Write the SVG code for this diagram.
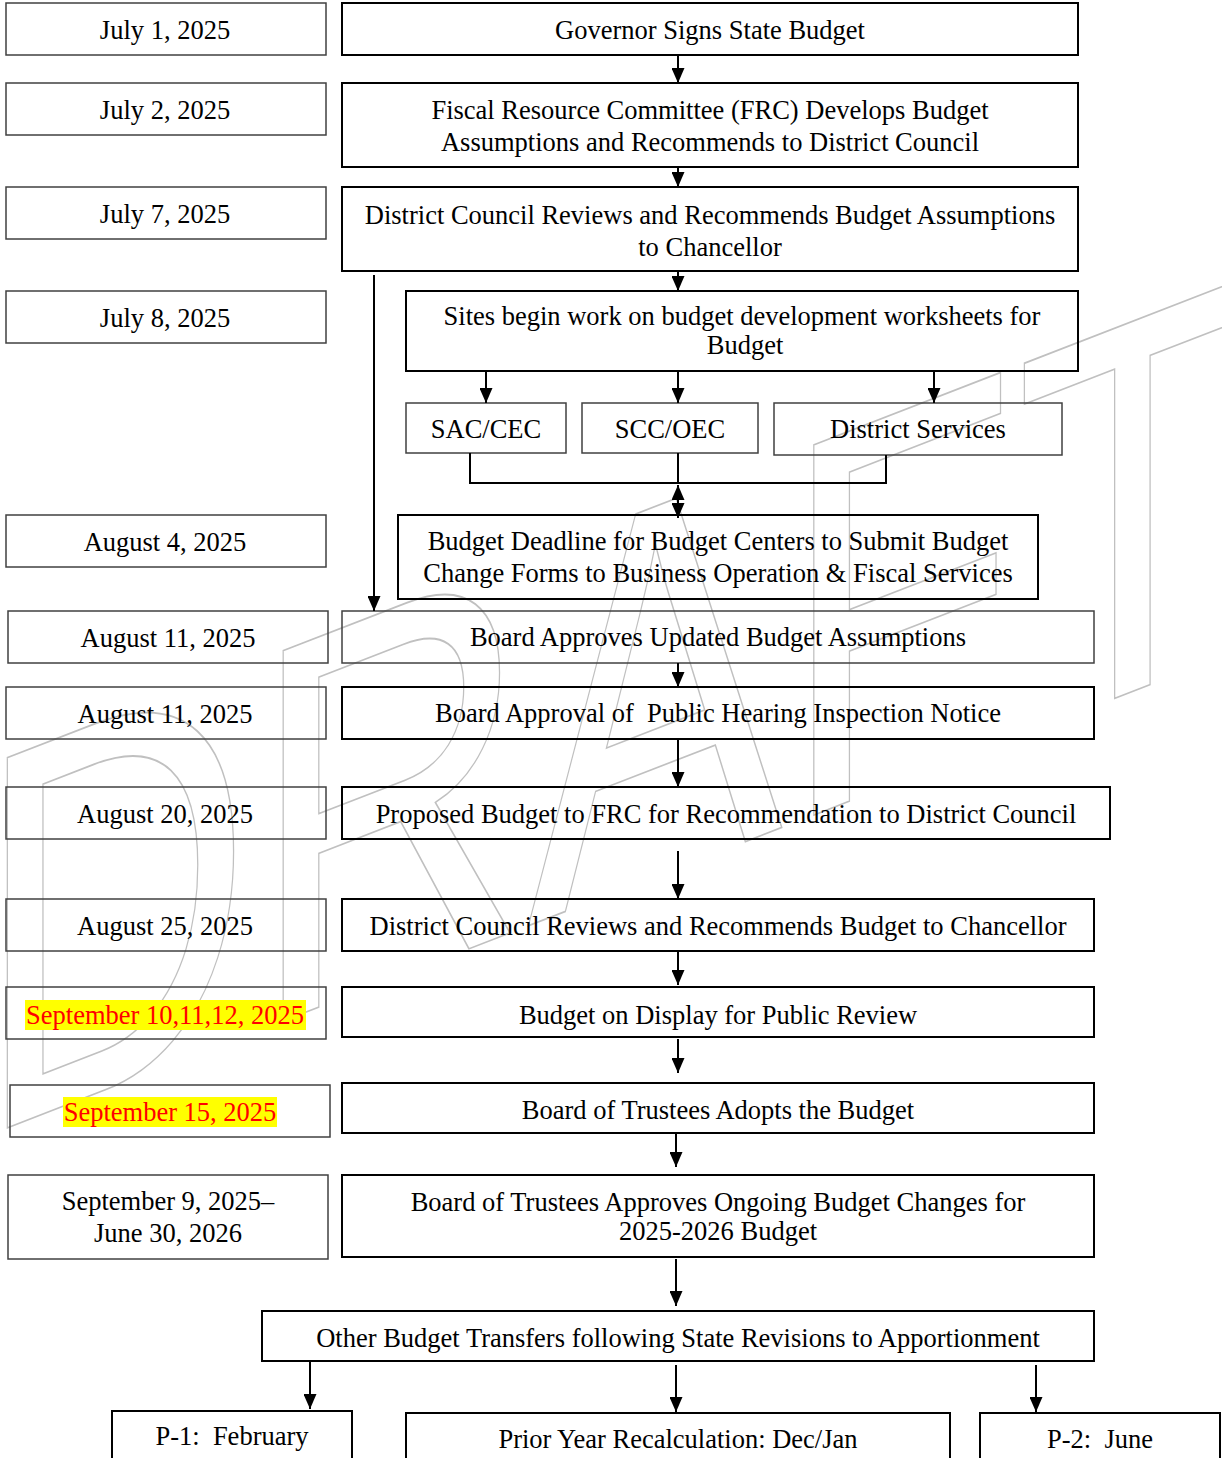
<svg xmlns="http://www.w3.org/2000/svg" width="1222" height="1458" viewBox="0 0 1222 1458">
<style>
text{font-family:"Liberation Serif","Times New Roman",serif;font-size:26.5px;fill:#000;text-anchor:middle}
.thin{fill:none;stroke:#404040;stroke-width:1.5}
.thick{fill:none;stroke:#000;stroke-width:2}
.c{fill:none;stroke:#000;stroke-width:2}
.red{fill:#ff0000}
.hl{fill:#ffff00}
.wm{font-family:"Liberation Sans",Arial,sans-serif;font-size:538px;fill:none;stroke:#c0c0c0;stroke-width:1.6;text-anchor:start}
</style>
<defs>
<marker id="ah" viewBox="0 0 15 13" refX="15" refY="6.5" markerWidth="15" markerHeight="13" markerUnits="userSpaceOnUse" orient="auto-start-reverse"><path d="M0,0 L15,6.5 L0,13 z" fill="#000"/></marker>
</defs>
<rect width="1222" height="1458" fill="#fff"/>
<g id="watermark"><text class="wm" transform="translate(-24,1140) skewY(-21.2) scale(0.71,1)" vector-effect="non-scaling-stroke">DRAFT</text></g>

<g id="d1"><rect class="thin" x="6" y="3" width="320" height="52"/><text x="165" y="39">July 1, 2025</text></g>
<g id="d2"><rect class="thin" x="6" y="83" width="320" height="52"/><text x="165" y="119">July 2, 2025</text></g>
<g id="d3"><rect class="thin" x="6" y="187" width="320" height="52"/><text x="165" y="223">July 7, 2025</text></g>
<g id="d4"><rect class="thin" x="6" y="291" width="320" height="52"/><text x="165" y="327">July 8, 2025</text></g>
<g id="d5"><rect class="thin" x="6" y="515" width="320" height="52"/><text x="165" y="551">August 4, 2025</text></g>
<g id="d6"><rect class="thin" x="8" y="611" width="320" height="52"/><text x="168" y="647">August 11, 2025</text></g>
<g id="d7"><rect class="thin" x="6" y="687" width="320" height="52"/><text x="165" y="723">August 11, 2025</text></g>
<g id="d8"><rect class="thin" x="6" y="787" width="320" height="52"/><text x="165" y="823">August 20, 2025</text></g>
<g id="d9"><rect class="thin" x="6" y="899" width="320" height="52"/><text x="165" y="935">August 25, 2025</text></g>
<g id="d10"><rect class="thin" x="6" y="987" width="320" height="52"/><rect class="hl" x="25" y="1000" width="281" height="30"/><text class="red" x="165" y="1024">September 10,11,12, 2025</text></g>
<g id="d11"><rect class="thin" x="10" y="1085" width="320" height="52"/><rect class="hl" x="63" y="1097" width="214" height="30"/><text class="red" x="170" y="1121">September 15, 2025</text></g>
<g id="d12"><rect class="thin" x="8" y="1175" width="320" height="84"/><text x="168" y="1210">September 9, 2025–</text><text x="168" y="1242">June 30, 2026</text></g>

<g id="n1"><rect class="thick" x="342" y="3" width="736" height="52"/><text x="710" y="39">Governor Signs State Budget</text></g>
<g id="n2"><rect class="thick" x="342" y="83" width="736" height="84"/><text x="710" y="119">Fiscal Resource Committee (FRC) Develops Budget</text><text x="710" y="151">Assumptions and Recommends to District Council</text></g>
<g id="n3"><rect class="thick" x="342" y="187" width="736" height="84"/><text x="710" y="224">District Council Reviews and Recommends Budget Assumptions</text><text x="710" y="256">to Chancellor</text></g>
<g id="n4"><rect class="thick" x="406" y="291" width="672" height="80"/><text x="742" y="325">Sites begin work on budget development worksheets for</text><text x="745" y="354">Budget</text></g>
<g id="n5"><rect class="thin" x="406" y="403" width="160" height="50"/><text x="486" y="438">SAC/CEC</text></g>
<g id="n6"><rect class="thin" x="582" y="403" width="176" height="50"/><text x="670" y="438">SCC/OEC</text></g>
<g id="n7"><rect class="thin" x="774" y="403" width="288" height="52"/><text x="918" y="438">District Services</text></g>
<g id="n8"><rect class="thick" x="398" y="515" width="640" height="84"/><text x="718" y="550">Budget Deadline for Budget Centers to Submit Budget</text><text x="718" y="582">Change Forms to Business Operation &amp; Fiscal Services</text></g>
<g id="n9"><rect class="thin" x="342" y="611" width="752" height="52"/><text x="718" y="646">Board Approves Updated Budget Assumptions</text></g>
<g id="n10"><rect class="thick" x="342" y="687" width="752" height="52"/><text x="718" y="722" xml:space="preserve">Board Approval of  Public Hearing Inspection Notice</text></g>
<g id="n11"><rect class="thick" x="342" y="787" width="768" height="52"/><text x="726" y="823">Proposed Budget to FRC for Recommendation to District Council</text></g>
<g id="n12"><rect class="thick" x="342" y="899" width="752" height="52"/><text x="718" y="935">District Council Reviews and Recommends Budget to Chancellor</text></g>
<g id="n13"><rect class="thick" x="342" y="987" width="752" height="50"/><text x="718" y="1024">Budget on Display for Public Review</text></g>
<g id="n14"><rect class="thick" x="342" y="1083" width="752" height="50"/><text x="718" y="1119">Board of Trustees Adopts the Budget</text></g>
<g id="n15"><rect class="thick" x="342" y="1175" width="752" height="82"/><text x="718" y="1211">Board of Trustees Approves Ongoing Budget Changes for</text><text x="718" y="1240">2025-2026 Budget</text></g>
<g id="n16"><rect class="thick" x="262" y="1311" width="832" height="50"/><text x="678" y="1347">Other Budget Transfers following State Revisions to Apportionment</text></g>
<g id="n17"><rect class="thick" x="112" y="1411" width="240" height="60"/><text x="232" y="1445" xml:space="preserve">P-1:  February</text></g>
<g id="n18"><rect class="thick" x="406" y="1413" width="544" height="60"/><text x="678" y="1448">Prior Year Recalculation: Dec/Jan</text></g>
<g id="n19"><rect class="thick" x="980" y="1413" width="240" height="60"/><text x="1100" y="1448" xml:space="preserve">P-2:  June</text></g>

<g id="connectors">
<line class="c" x1="678" y1="55" x2="678" y2="83" marker-end="url(#ah)"/>
<line class="c" x1="678" y1="167" x2="678" y2="187" marker-end="url(#ah)"/>
<line class="c" x1="678" y1="271" x2="678" y2="291" marker-end="url(#ah)"/>
<line class="c" x1="374" y1="275" x2="374" y2="611" marker-end="url(#ah)"/>
<line class="c" x1="486" y1="371" x2="486" y2="403" marker-end="url(#ah)"/>
<line class="c" x1="678" y1="371" x2="678" y2="403" marker-end="url(#ah)"/>
<line class="c" x1="934" y1="371" x2="934" y2="403" marker-end="url(#ah)"/>
<polyline class="c" points="470,453 470,483 886,483 886,455"/>
<line class="c" x1="678" y1="453" x2="678" y2="483"/>
<line class="c" x1="678" y1="485" x2="678" y2="518" marker-start="url(#ah)" marker-end="url(#ah)"/>
<line class="c" x1="678" y1="663" x2="678" y2="687" marker-end="url(#ah)"/>
<line class="c" x1="678" y1="739" x2="678" y2="787" marker-end="url(#ah)"/>
<line class="c" x1="678" y1="851" x2="678" y2="899" marker-end="url(#ah)"/>
<line class="c" x1="678" y1="951" x2="678" y2="985" marker-end="url(#ah)"/>
<line class="c" x1="678" y1="1039" x2="678" y2="1073" marker-end="url(#ah)"/>
<line class="c" x1="676" y1="1133" x2="676" y2="1167" marker-end="url(#ah)"/>
<line class="c" x1="676" y1="1259" x2="676" y2="1306" marker-end="url(#ah)"/>
<line class="c" x1="310" y1="1361" x2="310" y2="1409" marker-end="url(#ah)"/>
<line class="c" x1="676" y1="1365" x2="676" y2="1412" marker-end="url(#ah)"/>
<line class="c" x1="1036" y1="1365" x2="1036" y2="1412" marker-end="url(#ah)"/>
</g>
</svg>
